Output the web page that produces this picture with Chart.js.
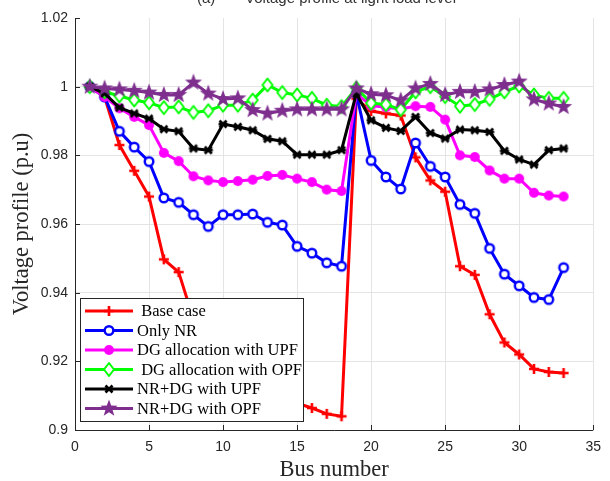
<!DOCTYPE html>
<html>
<head>
<meta charset="utf-8">
<script src="https://cdn.jsdelivr.net/npm/chart.js@4/dist/chart.umd.min.js"></script>
<style>
  body { margin: 0; background: #fff; }
  #wrap { width: 610px; height: 481px; }
</style>
</head>
<body>
<div id="wrap"><canvas id="grafica" width="610" height="481"></canvas></div>
<script>
// bus numbers and voltage of each case (p.u)
var buses = [];
for (var b = 1; b <= 33; b++) buses.push(b);

var baseCase = [1.0, 0.997, 0.983, 0.9755, 0.968, 0.9497, 0.946, 0.9323, 0.926, 0.9201, 0.9193, 0.9177, 0.9115, 0.9092, 0.9078, 0.9064, 0.9047, 0.9040,
                0.9965, 0.9929, 0.9922, 0.9916, 0.9794, 0.9727, 0.9694, 0.9477, 0.9452, 0.9337, 0.9255, 0.9220, 0.9178, 0.9169, 0.9166];
var onlyNR = [1.0, 0.997, 0.987, 0.9824, 0.9782, 0.9676, 0.9663, 0.9627, 0.9593, 0.9627, 0.9627, 0.9629, 0.9605, 0.9597, 0.9535, 0.9515, 0.9487, 0.9477,
              0.998, 0.9785, 0.9737, 0.9702, 0.9836, 0.9768, 0.9737, 0.9657, 0.9631, 0.9529, 0.9454, 0.942, 0.9386, 0.938, 0.9473];
var dgUPF = [1.0, 0.997, 0.9937, 0.9912, 0.9888, 0.9807, 0.9783, 0.9739, 0.9727, 0.9722, 0.9725, 0.9729, 0.974, 0.9743, 0.9732, 0.9722, 0.970, 0.9696,
             0.998, 0.9945, 0.994, 0.9935, 0.9943, 0.9941, 0.9904, 0.980, 0.9795, 0.9756, 0.9732, 0.9732, 0.9691, 0.9683, 0.968];
var dgOPF = [1.0, 0.9985, 0.9973, 0.9961, 0.9953, 0.9939, 0.9941, 0.9925, 0.993, 0.9946, 0.9946, 0.9961, 1.0005, 0.9983, 0.9976, 0.9966, 0.9946, 0.9942,
             0.9996, 0.9952, 0.9948, 0.9933, 0.9985, 1.0, 0.9971, 0.9943, 0.9948, 0.9963, 0.9985, 1.0002, 0.9976, 0.9966, 0.9966];
var nrDgUPF = [1.0, 0.998, 0.9939, 0.9922, 0.9907, 0.9876, 0.987, 0.982, 0.9815, 0.9891, 0.9883, 0.9873, 0.9848, 0.9841, 0.9802, 0.9802, 0.9802, 0.9815,
               0.998, 0.9902, 0.988, 0.9871, 0.9912, 0.9865, 0.9849, 0.9875, 0.9873, 0.9868, 0.9813, 0.9788, 0.9773, 0.9815, 0.982];
var nrDgOPF = [1.0, 0.9995, 0.9992, 0.9988, 0.9983, 0.9976, 0.9976, 1.0012, 0.998, 0.9964, 0.9966, 0.9932, 0.9922, 0.993, 0.9934, 0.9934, 0.9934, 0.9934,
               0.9995, 0.9978, 0.9975, 0.996, 0.9995, 1.0008, 0.9976, 0.9985, 0.9985, 0.9992, 1.0005, 1.0015, 0.9963, 0.9951, 0.9941];

var xTicks = [0, 5, 10, 15, 20, 25, 30, 35];
var yTicks = [0.9, 0.92, 0.94, 0.96, 0.98, 1, 1.02];

var series = [
  { label: ' Base case',              data: baseCase, color: '#ff0000', marker: 'plus' },
  { label: 'Only NR',                 data: onlyNR,   color: '#0000ff', marker: 'circle' },
  { label: 'DG allocation with UPF',  data: dgUPF,    color: '#ff00ff', marker: 'dot' },
  { label: ' DG allocation with OPF', data: dgOPF,    color: '#00ff00', marker: 'diamond' },
  { label: 'NR+DG with UPF',          data: nrDgUPF,  color: '#000000', marker: 'asterisk' },
  { label: 'NR+DG with OPF',          data: nrDgOPF,  color: '#7e2f8e', marker: 'star' }
];

function dibujarMarcador(ctx, tipo, x, y, color){
    ctx.save();
    ctx.strokeStyle = color;
    ctx.fillStyle = color;
    ctx.lineJoin = 'round';
    ctx.lineCap = 'butt';
    ctx.beginPath();
    if (tipo == 'plus') {
        ctx.lineWidth = 2.6;
        ctx.moveTo(x - 5, y); ctx.lineTo(x + 5, y);
        ctx.moveTo(x, y - 5); ctx.lineTo(x, y + 5);
        ctx.stroke();
    } else if (tipo == 'circle') {
        ctx.lineWidth = 2.4;
        ctx.arc(x, y, 4.3, 0, Math.PI * 2);
        ctx.fillStyle = '#fff';
        ctx.fill();
        ctx.stroke();
    } else if (tipo == 'dot') {
        ctx.arc(x, y, 5, 0, Math.PI * 2);
        ctx.fill();
    } else if (tipo == 'diamond') {
        ctx.lineWidth = 2;
        ctx.moveTo(x, y - 6.5); ctx.lineTo(x + 5, y); ctx.lineTo(x, y + 6.5); ctx.lineTo(x - 5, y);
        ctx.closePath();
        ctx.fillStyle = '#fff';
        ctx.fill();
        ctx.stroke();
    } else if (tipo == 'asterisk') {
        ctx.lineWidth = 2.6;
        ctx.moveTo(x - 4.5, y); ctx.lineTo(x + 4.5, y);
        ctx.moveTo(x - 3.5, y - 3.5); ctx.lineTo(x + 3.5, y + 3.5);
        ctx.moveTo(x - 3.5, y + 3.5); ctx.lineTo(x + 3.5, y - 3.5);
        ctx.stroke();
    } else if (tipo == 'star') {
        var R = 9, r = 3.7;
        for (var i = 0; i < 10; i++) {
            var ang = -Math.PI / 2 + i * Math.PI / 5;
            var rad = (i % 2 == 0) ? R : r;
            var px = x + rad * Math.cos(ang), py = y + rad * Math.sin(ang);
            if (i == 0) ctx.moveTo(px, py); else ctx.lineTo(px, py);
        }
        ctx.closePath();
        ctx.fill();
    }
    ctx.restore();
}

// marker images used as pointStyle
function imagenMarcador(tipo, color){
    var c = document.createElement('canvas');
    c.width = 22; c.height = 22;
    dibujarMarcador(c.getContext('2d'), tipo, 11, 11, color);
    return c;
}

var datasets = series.map(function(s, i){
    return {
        label: s.label,
        data: s.data,
        borderColor: s.color,
        backgroundColor: s.color,
        borderWidth: 3,
        pointStyle: imagenMarcador(s.marker, s.color),
        pointRadius: 6,
        pointHoverRadius: 6,
        tension: 0,
        order: series.length - i
    };
});

// axes with inward ticks, title fragment and the boxed legend
var ejes = {
    id: 'ejes',
    afterDraw: function(chart){
        var ctx = chart.ctx;
        var area = chart.chartArea;
        var xs = chart.scales.x, ys = chart.scales.y;
        ctx.save();
        ctx.strokeStyle = '#262626';
        ctx.lineWidth = 1;
        ctx.beginPath();
        ctx.moveTo(area.left + 0.5, area.top);
        ctx.lineTo(area.left + 0.5, area.bottom + 0.5);
        ctx.lineTo(area.right, area.bottom + 0.5);
        yTicks.forEach(function(v){
            var py = Math.round(ys.getPixelForValue(v)) + 0.5;
            ctx.moveTo(area.left, py); ctx.lineTo(area.left + 5, py);
        });
        xTicks.forEach(function(v){
            var px = Math.round(xs.getPixelForValue(v)) + 0.5;
            ctx.moveTo(px, area.bottom); ctx.lineTo(px, area.bottom - 5);
        });
        ctx.stroke();

        ctx.fillStyle = '#333';
        ctx.font = '15px "Liberation Sans", Arial, sans-serif';
        ctx.textBaseline = 'alphabetic';
        ctx.fillText('(a)', 197, 2.5);
        ctx.fillText('Voltage profile at light load level', 245, 2.5);

        var lx = 80, ly = 298, lw = 223, lh = 123;
        ctx.fillStyle = '#fff';
        ctx.fillRect(lx, ly, lw, lh);
        ctx.strokeStyle = '#262626';
        ctx.strokeRect(lx + 0.5, ly + 0.5, lw, lh);
        ctx.font = '16.5px "Liberation Serif", "Times New Roman", serif';
        ctx.textBaseline = 'middle';
        series.forEach(function(s, i){
            var cy = 311 + i * 19.5;
            ctx.strokeStyle = s.color;
            ctx.lineWidth = 3;
            ctx.beginPath();
            ctx.moveTo(85, cy); ctx.lineTo(133, cy);
            ctx.stroke();
            dibujarMarcador(ctx, s.marker, 109, cy, s.color);
            ctx.fillStyle = '#000';
            ctx.fillText(s.label, 137, cy + 1);
        });
        ctx.restore();
    }
};

var ctx = document.getElementById('grafica').getContext('2d');

var grafica = new Chart(ctx, {
    type: 'line',
    data: {
        labels: buses,
        datasets: datasets
    },
    options: {
        responsive: false,
        animation: false,
        events: [],
        layout: { padding: { left: 9, right: 9, top: 18, bottom: 0 } },
        plugins: {
            legend: { display: false },
            tooltip: { enabled: false }
        },
        scales: {
            x: {
                type: 'linear',
                min: 0,
                max: 35,
                afterBuildTicks: function(scale){ scale.ticks = xTicks.map(function(v){ return { value: v }; }); },
                afterFit: function(scale){ scale.height = 51; },
                grid: { color: '#e4e4e4', drawTicks: false },
                border: { display: false },
                ticks: {
                    padding: 9,
                    color: '#262626',
                    font: { family: '"Liberation Sans", Arial, sans-serif', size: 14 },
                    maxRotation: 0
                },
                title: {
                    display: true,
                    text: 'Bus number',
                    color: '#262626',
                    font: { family: '"Liberation Serif", "Times New Roman", serif', size: 22.5 },
                    padding: { top: 0, bottom: -3 }
                }
            },
            y: {
                min: 0.9,
                max: 1.02,
                afterBuildTicks: function(scale){ scale.ticks = yTicks.map(function(v){ return { value: v }; }); },
                afterFit: function(scale){ scale.width = 66; },
                grid: {
                    color: function(c){ return c.tick && c.tick.value > 1.01 ? 'rgba(0,0,0,0)' : '#e4e4e4'; },
                    drawTicks: false
                },
                border: { display: false },
                ticks: {
                    padding: 7,
                    color: '#262626',
                    font: { family: '"Liberation Sans", Arial, sans-serif', size: 14 },
                    callback: function(v){ return String(parseFloat(v.toFixed(2))); }
                },
                title: {
                    display: true,
                    text: 'Voltage profile (p.u)',
                    color: '#262626',
                    font: { family: '"Liberation Serif", "Times New Roman", serif', size: 22.5 },
                    padding: { top: 0, bottom: 0 }
                }
            }
        }
    },
    plugins: [ejes]
});
</script>
</body>
</html>
